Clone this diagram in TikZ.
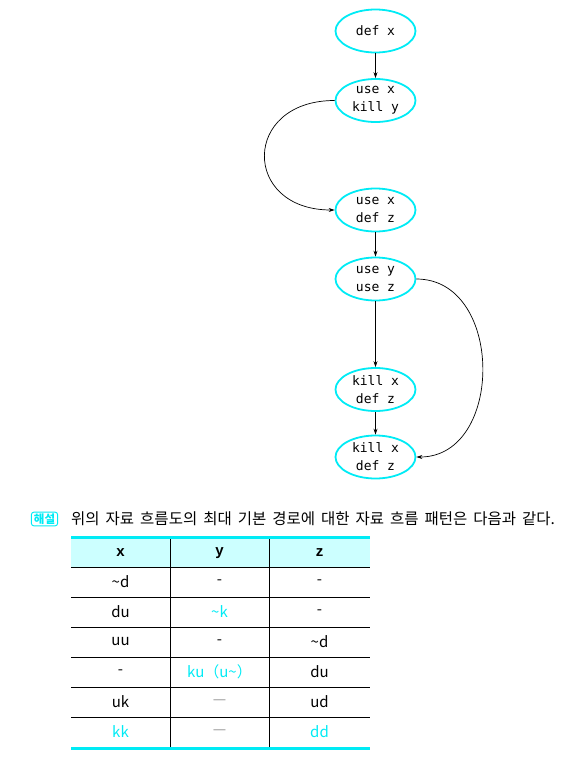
\documentclass[tikz,border=0pt]{standalone}
\usepackage{fontspec}
\setmonofont{DejaVu Sans Mono}
\newfontfamily\hdrfont{Liberation Sans}
\newfontfamily\kr{Noto Sans CJK KR}
\usetikzlibrary{shapes.geometric,arrows.meta}
\definecolor{mycyan}{RGB}{0,235,245}
\definecolor{hdrbg}{RGB}{204,255,255}
\definecolor{dashgray}{RGB}{150,150,150}
\tikzset{
  flownode/.style={ellipse, draw=mycyan, line width=1.8pt, minimum width=80pt, minimum height=43pt, inner sep=0pt, align=center, font=\ttfamily\fontsize{13}{18}\selectfont},
  arr/.style={-{Stealth[length=6pt,width=4pt]}, line width=0.7pt},
  cell/.style={font=\kr\fontsize{15}{17}\selectfont, inner sep=0pt},
  hdr/.style={font=\hdrfont\bfseries\fontsize{15}{17}\selectfont, inner sep=0pt},
  rule/.style={line width=0.9pt, black},
  thick rule/.style={line width=3pt, mycyan}
}
\begin{document}
\begin{tikzpicture}[x=1pt,y=-1pt]
\useasboundingbox (0,0) rectangle (574,758);
% flow graph
\node[flownode] (n1) at (375.5,31) {def x};
\node[flownode] (n2) at (375.5,100.5) {use x\\kill y};
\node[flownode] (n3) at (375.5,210) {use x\\def z};
\node[flownode] (n4) at (375.5,279) {use y\\use z};
\node[flownode] (n5) at (375.5,389.5) {kill x\\def z};
\node[flownode] (n6) at (375.5,457) {kill x\\def z};
\draw[arr] (n1) -- (n2);
\draw[arr] (n3) -- (n4);
\draw[arr] (n4) -- (n5);
\draw[arr] (n5) -- (n6);
\draw[arr] (n2.west) .. controls +(-93,0) and +(-93,0) .. (n3.west);
\draw[arr] (n4.east) .. controls +(88,0) and +(88,0) .. (n6.east);
% caption
\node[draw=mycyan, line width=0.9pt, rounded corners=2.5pt, text=mycyan, inner xsep=2.5pt, inner ysep=1.5pt, font=\kr\bfseries\fontsize{11.5}{12}\selectfont] (lab) at (44.5,519) {해설};
\node[anchor=west, inner sep=0pt, font=\kr\fontsize{15.5}{17}\selectfont] (cap) at (71,519) {\spaceskip=6pt\relax 위의 자료 흐름도의 최대 기본 경로에 대한 자료 흐름 패턴은 다음과 같다.};
% table
\fill[hdrbg] (71,538) rectangle (370,567);
\foreach \y in {567,597,627,657,687,717} \draw[rule] (71,\y) -- (370,\y);
\draw[rule] (170,538) -- (170,747);
\draw[rule] (269,538) -- (269,747);
\draw[thick rule] (71,537) -- (370,537);
\draw[thick rule] (71,748) -- (370,748);
\node[hdr] (hx) at (120.5,553) {x};
\node[hdr] (hy) at (219.5,553) {y};
\node[hdr] (hz) at (319.5,553) {z};
\node[cell] (a1) at (120.5,582) {\textasciitilde d};
\node[cell] (b1) at (219.5,582) {-};
\node[cell] (c1) at (319.5,582) {-};
\node[cell] (a2) at (120.5,612) {du};
\node[cell, text=mycyan] (b2) at (219.5,612) {\textasciitilde k};
\node[cell] (c2) at (319.5,612) {-};
\node[cell] (a3) at (120.5,642) {uu};
\node[cell] (b3) at (219.5,642) {-};
\node[cell] (c3) at (319.5,642) {\textasciitilde d};
\node[cell] (a4) at (120.5,672) {-};
\node[cell, text=mycyan] (b4) at (219.5,672) {ku（u\textasciitilde）};
\node[cell] (c4) at (319.5,672) {du};
\node[cell] (a5) at (120.5,702) {uk};
\node[cell, text=dashgray] (b5) at (219.5,702) {—};
\node[cell] (c5) at (319.5,702) {ud};
\node[cell, text=mycyan] (a6) at (120.5,732) {kk};
\node[cell, text=dashgray] (b6) at (219.5,732) {—};
\node[cell, text=mycyan] (c6) at (319.5,732) {dd};
\end{tikzpicture}
\end{document}
